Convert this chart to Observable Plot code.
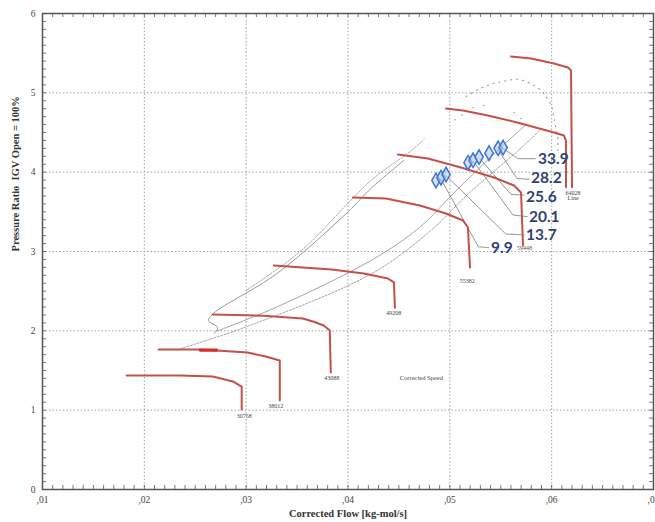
<!DOCTYPE html>
<html><head><meta charset="utf-8">
<script src="https://cdn.jsdelivr.net/npm/d3@7"></script>
<script src="https://cdn.jsdelivr.net/npm/@observablehq/plot@0.6"></script>
<style>body{margin:0;background:#fff}</style>
</head><body><div id="chart"></div>
<script>
// ---- axes ----
const xTicks = [0.01, 0.02, 0.03, 0.04, 0.05, 0.06, 0.07];
const xTickLabels = [",01", ",02", ",03", ",04", ",05", ",06", ",07"];
const yTicks = [0, 1, 2, 3, 4, 5, 6];
const xMinor = d3.range(10, 71).map(k => k / 1000);
const yMinor = d3.range(0, 61).map(k => k / 10);

// ---- constant speed lines (red) ----
const speedNames = ["30758", "38012", "43088", "49208", "55382", "59448", "64028", "top"];
const speed30758 = [[0.01826,1.437],[0.02357,1.437],[0.02672,1.424],[0.02869,1.362],[0.02956,1.298],[0.02956,1.008]];
const speed38012 = [[0.02140,1.765],[0.02553,1.765],[0.03015,1.727],[0.03192,1.676],[0.03330,1.626],[0.03330,1.122]];
const speed43088 = [[0.02671,2.206],[0.03172,2.19],[0.03556,2.155],[0.03664,2.115],[0.03762,2.067],[0.03821,2.004],[0.03831,1.475]];
const speed49208 = [[0.03271,2.824],[0.03840,2.774],[0.04156,2.723],[0.04392,2.66],[0.04451,2.61],[0.04461,2.29]];
const speed55382 = [[0.04047,3.681],[0.04372,3.668],[0.04706,3.580],[0.04962,3.479],[0.05129,3.391],[0.05178,3.303],[0.05198,2.799]];
const speed59448 = [[0.04490,4.222],[0.04785,4.172],[0.05109,4.059],[0.05434,3.933],[0.05630,3.832],[0.05699,3.744],[0.05719,3.076]];
const speed64028 = [[0.04962,4.802],[0.05129,4.777],[0.05374,4.714],[0.05699,4.614],[0.06023,4.500],[0.06121,4.462],[0.06141,4.399],[0.06141,3.81]];
const speedTop = [[0.05601,5.458],[0.05797,5.433],[0.06023,5.370],[0.06161,5.32],[0.06190,5.282],[0.06200,3.81]];
const speedOverlay = [[0.0255,1.757],[0.0271,1.757]];

// speed labels
const speedLabels = ["30758", "38012", "43088", "49208", "55382", "64028", "Line"];
const speedLabelX = [0.0298, 0.0329, 0.0384, 0.0445, 0.0517, 0.0621, 0.0621];
const speedLabelY = [0.93, 1.05, 1.40, 2.23, 2.63, 3.74, 3.67];
const sideLabel = "59448";
const sideLabelX = 0.0566, sideLabelY = 3.04;

// ---- gray lines ----
const grayA = [[0.0300,2.51],[0.0354,3.01],[0.0423,3.90],[0.0462,4.27],[0.0475,4.42]];
const grayB = [[0.0269,1.97],[0.0272,2.04],[0.0263,2.13],[0.0268,2.22],[0.0330,2.72],[0.0400,3.50],[0.0423,3.80],[0.0455,4.15]];
const grayC = [[0.0272,2.00],[0.0330,2.30],[0.0423,2.89],[0.0470,3.30],[0.0505,3.75],[0.0550,4.31],[0.0575,4.60]];
const grayD = [[0.02357,1.777],[0.0300,2.05],[0.0423,2.72],[0.0480,3.25],[0.0520,3.75],[0.0567,4.27],[0.0590,4.55]];
const dotArc = [[0.0516,4.954],[0.0528,5.043],[0.0540,5.106],[0.0552,5.143],[0.0568,5.169],[0.0587,5.055],[0.0595,4.941],[0.0600,4.828],[0.0602,4.702],[0.0604,4.563],[0.0606,4.425],[0.0606,4.274]];
const dotScatter = [[0.0523,4.815],[0.0533,4.84],[0.0563,4.752],[0.0570,4.677],[0.0505,4.66],[0.0512,4.72]];

// ---- IGV points (blue diamonds) ----
const igvX = [0.04864,0.04913,0.04963,0.05179,0.05228,0.05287,0.05385,0.05474,0.05523];
const igvY = [3.895,3.93,3.97,4.12,4.15,4.19,4.24,4.30,4.31];

// ---- IGV labels ----
const igvLabels = ["33.9", "28.2", "25.6", "20.1", "13.7", "9.9"];
const igvLabelX = [0.05866, 0.05797, 0.05748, 0.05777, 0.05748, 0.05404];
const igvLabelY = [4.170, 3.925, 3.690, 3.429, 3.202, 3.038];
const leaders = [
  [[0.0552,4.30],[0.0567,4.17],[0.0584,4.17]],
  [[0.0547,4.29],[0.0566,3.92],[0.0578,3.91]],
  [[0.0529,4.18],[0.0560,3.72],[0.0573,3.71]],
  [[0.0523,4.14],[0.0562,3.46],[0.0576,3.44]],
  [[0.0496,3.96],[0.0555,3.22],[0.0573,3.21]],
  [[0.0491,3.92],[0.0528,3.06],[0.0538,3.05]]
];

const xLabel = "Corrected Flow [kg-mol/s]";
const yLabel = "Pressure Ratio  IGV Open = 100%";
const noteLabel = "Corrected Speed";
const noteX = 0.0472, noteY = 1.41;

// ---- build tables ----
const speedLines = [speed30758, speed38012, speed43088, speed49208, speed55382, speed59448, speed64028, speedTop]
  .flatMap((pts, i) => pts.map(([x, y]) => ({x, y, s: speedNames[i]})));
const toRows = (pts, id) => pts.map(([x, y]) => ({x, y, id}));
const leaderRows = leaders.flatMap((pts, i) => toRows(pts, i));
const igv = igvX.map((x, i) => ({x, y: igvY[i]}));
const igvLab = igvLabels.map((t, i) => ({t, x: igvLabelX[i], y: igvLabelY[i]}));
const spLab = speedLabels.map((t, i) => ({t, x: speedLabelX[i], y: speedLabelY[i]}));

const red = "#c4504a";
const gridColor = "#9aa89a";
const fmtX = d => xTickLabels[xTicks.findIndex(t => Math.abs(t - d) < 1e-9)];

const chart = Plot.plot({
  width: 655, height: 522,
  marginLeft: 42, marginRight: 2, marginTop: 13, marginBottom: 33,
  style: {background: "#fff", fontFamily: "'Liberation Serif', 'DejaVu Serif', serif"},
  x: {domain: [0.01, 0.07]},
  y: {domain: [0, 6]},
  marks: [
    Plot.ruleX(xTicks.slice(1, -1), {stroke: gridColor, strokeWidth: 1, strokeDasharray: "1.5,2"}),
    Plot.ruleY(yTicks.slice(1, -1), {stroke: gridColor, strokeWidth: 1, strokeDasharray: "1.5,2"}),
    // minor ticks on all four sides
    Plot.tickX(xMinor, {x: d => d, insetTop: 472, stroke: "#555", strokeWidth: 0.8}),
    Plot.tickX(xMinor, {x: d => d, insetBottom: 472, stroke: "#555", strokeWidth: 0.8}),
    Plot.tickY(yMinor, {y: d => d, insetRight: 607, stroke: "#555", strokeWidth: 0.8}),
    Plot.tickY(yMinor, {y: d => d, insetLeft: 607, stroke: "#555", strokeWidth: 0.8}),
    Plot.axisX({ticks: xTicks, tickFormat: fmtX, tickSize: 0, tickPadding: 7, label: null, fontSize: 9.5, fill: "#444"}),
    Plot.axisY({ticks: yTicks, tickFormat: d => String(d), tickSize: 0, tickPadding: 7, label: null, fontSize: 9.5, fill: "#444"}),
    // gray lines
    Plot.line(grayA, {x: d => d[0], y: d => d[1], stroke: "#9a9a9a", strokeWidth: 0.9, strokeDasharray: "1.5,1.5", curve: "catmull-rom"}),
    Plot.line(grayB, {x: d => d[0], y: d => d[1], stroke: "#8c8c8c", strokeWidth: 0.9, curve: "catmull-rom"}),
    Plot.line(grayC, {x: d => d[0], y: d => d[1], stroke: "#9a9a9a", strokeWidth: 0.9, curve: "catmull-rom"}),
    Plot.line(grayD, {x: d => d[0], y: d => d[1], stroke: "#9a9a9a", strokeWidth: 0.9, strokeDasharray: "2,1.5", curve: "catmull-rom"}),
    Plot.line(dotArc, {x: d => d[0], y: d => d[1], stroke: "#a0a0a0", strokeWidth: 1.2, strokeDasharray: "1,5", curve: "catmull-rom"}),
    Plot.dot(dotScatter, {x: d => d[0], y: d => d[1], r: 0.8, fill: "#999"}),
    // leader lines
    Plot.line(leaderRows, {x: "x", y: "y", z: "id", stroke: "#8a8a8a", strokeWidth: 0.9}),
    // red speed lines
    Plot.line(speedLines, {x: "x", y: "y", z: "s", stroke: red, strokeWidth: 2, strokeLinejoin: "round"}),
    Plot.line(speedOverlay, {x: d => d[0], y: d => d[1], stroke: "#d03030", strokeWidth: 3.2}),
    // IGV diamonds
    Plot.dot(igv, {x: "x", y: "y", symbol: "diamond", r: 4.4, fill: "#b3cbf2", fillOpacity: 0.6, stroke: "#3f74d0", strokeWidth: 1.5}),
    // labels
    Plot.text(spLab, {x: "x", y: "y", text: "t", fontSize: 6, fill: "#444"}),
    Plot.text([sideLabel], {x: () => sideLabelX, y: () => sideLabelY, text: d => d, fontSize: 6, fill: "#555", textAnchor: "start"}),
    Plot.text([noteLabel], {x: () => noteX, y: () => noteY, text: d => d, fontSize: 6.5, fill: "#444"}),
    Plot.text(igvLab, {x: "x", y: "y", text: "t", textAnchor: "start", fontSize: 15.5, fontWeight: "bold", fill: "#2f4275", fontFamily: "Lato, 'Open Sans', sans-serif"}),
    Plot.frame({stroke: "#555", strokeWidth: 1.5}),
    Plot.text([xLabel], {frameAnchor: "bottom", dy: 24, text: d => d, fontSize: 10.5, fontWeight: "bold", fill: "#333", lineAnchor: "middle"}),
    Plot.text([yLabel], {frameAnchor: "left", dx: -27, rotate: -90, text: d => d, fontSize: 10.5, fontWeight: "bold", fill: "#333", lineAnchor: "middle"})
  ]
});
document.getElementById("chart").append(chart);
</script>
</body></html>
